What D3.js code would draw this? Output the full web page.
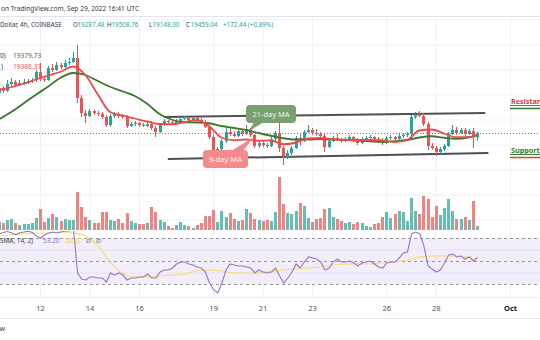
<!DOCTYPE html>
<html><head><meta charset="utf-8">
<script src="https://cdn.jsdelivr.net/npm/d3@7"></script>
<style>
html,body{margin:0;padding:0;background:#fff;}
svg{display:block;font-family:"Noto Sans",Roboto,sans-serif;}
</style></head><body>
<svg id="chart" width="540" height="340"></svg>
<script>
// BTC/USD, 4h candles from Coinbase, Sep 10 08:00 UTC onward
const startTime = Date.UTC(2022, 8, 10, 8);

const open = [21060,21260,21140,21420,21500,21380,21460,21500,21540,21580,
21900,21620,21580,22060,21980,22180,22100,22260,22300,22460,
20860,20260,20140,20340,20260,20220,20100,19780,20140,20220,
20140,20100,19740,19820,19860,19780,19740,19820,19660,19500,
19780,19940,19900,19860,19940,20020,20060,19980,20060,19980,
19900,19700,19300,18740,18820,19140,19500,19420,19340,19540,
19420,19620,19380,18940,19060,18980,18940,19220,19460,18860,
18500,18660,18860,19260,19140,19500,19580,19460,19420,19340,
18900,19140,19260,19180,19140,19220,19300,19180,19060,19220,
19260,19300,19220,19140,19060,19260,19300,19220,19340,19380,
19420,20100,20180,20140,19820,18940,18860,18700,18820,18940,
19420,19580,19460,19580,19420,19540,19287.48];
const high = [21340,21340,21580,21660,21580,21580,21620,21620,21660,21980,
22260,21700,22140,22220,22300,22260,22380,22460,22700,22980,
20980,20380,20420,20380,20340,20300,20180,20220,20300,20300,
20220,20180,19900,19940,19900,19860,19900,19940,19740,19860,
20020,19980,19940,20020,20100,20140,20100,20100,20100,20060,
19980,19740,19380,18900,19220,19660,19700,19540,19660,19620,
19780,19660,19420,19140,19140,19060,19300,19540,19940,18940,
18780,18940,19340,19420,19580,19780,19660,19620,19500,19420,
19220,19340,19420,19260,19300,19380,19340,19260,19300,19340,
19380,19340,19300,19260,19340,19380,19340,19420,19460,19500,
20180,20300,20340,20260,19900,19060,18940,18900,19020,19500,
19780,19700,19660,19660,19620,19660,19508.76];
const low = [21020,21060,21100,21340,21300,21340,21380,21420,21460,21500,
21540,21500,21540,21900,21940,22020,22060,22180,22260,20660,
20100,19860,20100,20180,20140,20020,19700,19700,20060,20060,
20020,19660,19700,19740,19700,19700,19700,19580,19300,19460,
19740,19820,19820,19820,19900,19980,19940,19940,19940,19860,
19660,19220,18700,18420,18660,19060,19340,19300,19300,19340,
19380,19300,18860,18860,18900,18860,18900,19140,18700,18180,
18420,18580,18820,18940,19100,19460,19380,19340,19260,18700,
18860,19100,19140,19060,19100,19180,19100,18980,19020,19140,
19180,19140,19060,18980,19020,19180,19140,19180,19260,19300,
19340,20020,20100,19740,18780,18780,18540,18620,18740,18900,
19380,19380,19420,19340,19380,18860,19148.00];
const close = [21260,21140,21420,21500,21380,21460,21500,21540,21580,21900,
21620,21580,22060,21980,22180,22100,22260,22300,22460,20860,
20260,20140,20340,20260,20220,20100,19780,20140,20220,20140,
20100,19740,19820,19860,19780,19740,19820,19660,19500,19780,
19940,19900,19860,19940,20020,20060,19980,20060,19980,19900,
19700,19300,18740,18820,19140,19500,19420,19340,19540,19420,
19620,19380,18940,19060,18980,18940,19220,19460,18860,18500,
18660,18860,19260,19140,19500,19580,19460,19420,19340,18900,
19140,19260,19180,19140,19220,19300,19180,19060,19220,19260,
19300,19220,19140,19060,19260,19300,19220,19340,19380,19420,
20100,20180,20140,19820,18940,18860,18700,18820,18940,19420,
19580,19460,19580,19420,19540,19287.48,19459.04];
const volume = [800,700,1000,1100,700,500,600,600,700,1200,
2100,800,1200,1600,1300,900,1100,1000,1000,3800,
2300,1300,1000,700,700,1800,1800,1000,900,1100,
700,1700,900,700,600,600,700,2300,1800,1000,
800,400,200,500,800,500,400,200,500,700,
1400,1400,2000,800,1900,1300,1700,1100,900,1000,
2100,1700,1100,1000,900,1000,900,1800,5300,2600,
1700,1600,1900,2700,2400,1200,800,1100,1200,2100,
2200,1300,1100,900,700,800,600,800,700,400,
300,600,700,1300,1800,1200,1600,1900,1800,900,
3200,1900,1600,3400,3100,1300,2400,1500,2200,3100,
1900,1100,1100,1300,1000,2900,400];
const rsi = [73.5,74.8,75.6,74.3,73.0,74.6,75.2,75.9,74.7,71.7,
70.0,72.6,74.3,75.2,74.3,75.2,76.1,76.1,77.8,39.6,
34.3,33.5,36.1,36.1,35.2,35.2,31.7,39.6,37.8,39.6,
37.8,33.5,35.2,35.2,36.1,36.1,38.7,35.2,35.2,40.4,
42.2,42.2,43.9,47.4,49.1,49.1,47.4,46.5,44.8,43.9,
40.4,30.9,24.8,22.2,30.9,42.2,47.4,46.5,45.7,45.7,
44.8,43.9,39.6,42.2,40.4,39.6,40.4,43.9,37.0,30.9,
35.2,40.4,47.4,43.9,49.1,53.5,52.6,51.7,49.1,42.2,
43.9,49.1,51.7,49.1,49.1,50.0,48.3,45.7,48.3,49.1,
50.0,47.4,44.8,43.9,48.3,49.1,49.1,52.6,57.0,57.8,
73.5,75.2,73.5,63.0,45.7,43.0,40.4,42.2,48.3,55.2,
56.1,53.5,54.3,51.7,53.5,50.0,53.2];

// smoothed series, read every third candle
const smoothIdx = [0,3,6,9,12,15,18,21,24,27,30,33,36,39,42,45,48,51,54,57,
60,63,66,69,72,75,78,81,84,87,90,93,96,99,102,105,108,111,114,116];
const ma9 = [21180,21290,21430,21600,21760,21910,22120,21780,21010,20300,
20160,20040,19920,19820,19810,19890,19970,19740,19280,19170,
19200,19150,19160,19010,19070,19240,19260,19210,19180,19180,
19180,19160,19100,19170,19560,19600,19440,19290,19290,19386.37];
const ma21 = [20000,20300,20640,20990,21320,21670,21860,21780,21540,21310,
21130,20940,20630,20220,19990,19890,19880,19850,19740,19660,
19580,19460,19350,19250,19200,19200,19220,19200,19190,19160,
19130,19100,19130,19180,19280,19330,19270,19230,19290,19379.73];
const rsiMa = [71.7,72.6,73.5,74.3,74.3,75.2,74.3,71.7,63.9,49.1,
39.6,36.1,36.1,37.0,37.8,38.7,41.3,42.2,41.3,39.6,
39.6,39.6,41.3,42.2,43.0,43.9,44.8,46.5,47.4,47.4,
47.4,48.3,49.1,50.9,53.5,54.3,54.3,54.3,53.5,50.32];

const tickDates = ["2022-09-12","2022-09-14","2022-09-16","2022-09-19","2022-09-21",
  "2022-09-23","2022-09-26","2022-09-28","2022-10-01"];
const tickLabels = ["12","14","16","19","21","23","26","28","Oct"];

const resistance = [["2022-09-17T00:00:00Z",20100],["2022-09-30T00:00:00Z",20260]];
const support = [["2022-09-17T04:00:00Z",18420],["2022-09-30T03:00:00Z",18660]];

const UP = "#26a69a", DOWN = "#ef5350";
const TXT = "#363a45";
const t = i => new Date(startTime + i * 4 * 3600 * 1000);

const svg = d3.select("#chart");
const x = d3.scaleUtc().domain([new Date(Date.UTC(2022,8,12)), new Date(Date.UTC(2022,9,1))]).range([40,510]);
const y = d3.scaleLinear().domain([16000,24000]).range([219.5,19.5]);
const yVol = d3.scaleLinear().domain([0,5000]).range([230,180]);
const yRsi = d3.scaleLinear().domain([30,70]).range([284,238]);
const ticks = tickDates.map(d => new Date(d + "T00:00:00Z"));

const defs = svg.append("defs");
defs.append("clipPath").attr("id","mainClip").append("rect").attr("x",0).attr("y",17).attr("width",540).attr("height",214);
defs.append("clipPath").attr("id","rsiClip").append("rect").attr("x",0).attr("y",231).attr("width",540).attr("height",66);

// grids
const gridColor = "#f0f1f5";
svg.append("g").attr("transform","translate(0,297)")
  .call(d3.axisBottom(x).tickValues(ticks).tickSize(-281).tickFormat(""))
  .call(g => g.select(".domain").remove())
  .call(g => g.selectAll("line").attr("stroke",gridColor));
svg.append("g").attr("clip-path","url(#mainClip)")
  .call(d3.axisLeft(y).tickValues(d3.range(16000,24001,1000)).tickSize(-540).tickFormat(""))
  .call(g => g.select(".domain").remove())
  .call(g => g.selectAll("line").attr("stroke",gridColor));

// header
svg.append("line").attr("x1",0).attr("x2",540).attr("y1",16.5).attr("y2",16.5).attr("stroke","#e3e5ec");
svg.append("text").attr("x",1).attr("y",9).attr("dy","0.35em").attr("font-size",6.6).attr("fill",TXT)
  .text("on TradingView.com, Sep 29, 2022 16:41 UTC");
const hdr = svg.append("text").attr("y",25).attr("dy","0.35em").attr("font-size",6.3);
const seg = (xp, txt, col) => hdr.append("tspan").attr("x",xp).attr("fill",col).text(txt);
seg(0,"Dollar, 4h, COINBASE",TXT);
seg(73,"O",TXT); seg(77.5,"19287.48",UP);
seg(107,"H",TXT); seg(111.5,"19508.76",UP);
seg(149,"L",TXT); seg(152.5,"19148.00",UP);
seg(186,"C",TXT); seg(190.5,"19459.04",UP);
seg(223,"+172.44 (+0.89%)",UP);

// volume bars
const bw = 3;
const cx = i => Math.round(x(t(i)));
svg.append("g").selectAll("rect").data(volume).join("rect")
  .attr("x",(d,i)=>cx(i)-1).attr("width",bw)
  .attr("y",d=>yVol(d)).attr("height",d=>yVol(0)-yVol(d))
  .attr("fill",(d,i)=> close[i]>=open[i]?UP:DOWN).attr("fill-opacity",0.72);

// last price line
const lastY = y(close[close.length-1]) + 0.5;
svg.append("line").attr("x1",0).attr("x2",540).attr("y1",lastY).attr("y2",lastY)
  .attr("stroke",UP).attr("stroke-dasharray","1,2").attr("stroke-width",1);

// trend lines
const tl = d3.line().x(d=>x(new Date(d[0]))).y(d=>y(d[1]));
[resistance,support].forEach(s=>svg.append("path").attr("d",tl(s)).attr("stroke","#505050").attr("stroke-width",2).attr("fill","none"));

// candles
const cg = svg.append("g").attr("clip-path","url(#mainClip)");
const idx = d3.range(close.length);
cg.selectAll("line.w").data(idx).join("line").attr("class","w")
  .attr("x1",i=>cx(i)+0.5).attr("x2",i=>cx(i)+0.5)
  .attr("y1",i=>y(high[i])).attr("y2",i=>y(low[i]))
  .attr("stroke",i=> close[i]>=open[i]?UP:DOWN).attr("stroke-width",1);
cg.selectAll("rect.b").data(idx).join("rect").attr("class","b")
  .attr("x",i=>cx(i)-1).attr("width",bw)
  .attr("y",i=>y(Math.max(open[i],close[i])))
  .attr("height",i=>Math.max(1, Math.abs(y(open[i])-y(close[i]))))
  .attr("fill",i=> close[i]>=open[i]?UP:DOWN);

// moving averages
const maLine = vals => d3.line().curve(d3.curveMonotoneX)
  .x((d,k)=>x(t(smoothIdx[k]))).y(d=>y(d))(vals);
cg.append("path").attr("d",maLine(ma21)).attr("fill","none").attr("stroke","#3a7a30").attr("stroke-width",1.8);
cg.append("path").attr("d",maLine(ma9)).attr("fill","none").attr("stroke","#f0484b").attr("stroke-width",1.8);

// MA legend
const leg = (xp, yp, txt, col) => svg.append("text").attr("x",xp).attr("y",yp).attr("dy","0.35em").attr("font-size",6.6).attr("fill",col).text(txt);
leg(0,56,"0)",TXT); leg(13,56,"19379.73","#3a7a30");
leg(1,67,")",TXT);  leg(13,67,"19386.37",DOWN);

// callouts
const g21 = svg.append("g");
g21.append("path").attr("d","M254,122 L264,122 L249,131 Z").attr("fill","#79a06f");
g21.append("rect").attr("x",246).attr("y",105).attr("width",50).attr("height",18).attr("rx",4).attr("fill","#79a06f");
g21.append("text").attr("x",271).attr("y",114).attr("dy","0.35em").attr("text-anchor","middle").attr("font-size",7.5).attr("fill","#eef4ea").text("21-day MA");
const g9 = svg.append("g");
g9.append("path").attr("d","M231,151 L243,151 L254,137 Z").attr("fill","#f38a8b");
g9.append("rect").attr("x",203).attr("y",150).attr("width",45).attr("height",18).attr("rx",4).attr("fill","#f38a8b");
g9.append("text").attr("x",225.5).attr("y",159).attr("dy","0.35em").attr("text-anchor","middle").attr("font-size",7.5).attr("fill","#fff4f4").text("9-day MA");

// side labels
svg.append("text").attr("x",511).attr("y",101).attr("dy","0.35em").attr("font-size",7.2).attr("font-weight","bold").attr("fill","#e0393e").text("Resistance");
svg.append("line").attr("x1",510).attr("x2",540).attr("y1",105.5).attr("y2",105.5).attr("stroke","#e0393e").attr("stroke-width",1);
svg.append("line").attr("x1",510).attr("x2",540).attr("y1",108.5).attr("y2",108.5).attr("stroke","#2e7d32").attr("stroke-width",1.5);
svg.append("text").attr("x",511).attr("y",150).attr("dy","0.35em").attr("font-size",7.2).attr("font-weight","bold").attr("fill","#2e7d32").text("Support");
svg.append("line").attr("x1",510).attr("x2",540).attr("y1",154.5).attr("y2",154.5).attr("stroke","#2e7d32").attr("stroke-width",1);
svg.append("line").attr("x1",510).attr("x2",540).attr("y1",157.5).attr("y2",157.5).attr("stroke","#e0393e").attr("stroke-width",1.5);

// RSI pane
svg.append("rect").attr("x",0).attr("width",540).attr("y",yRsi(70)).attr("height",yRsi(30)-yRsi(70)).attr("fill","#f1edf9");
svg.append("g").call(d3.axisLeft(yRsi).tickValues([40,60]).tickSize(-540).tickFormat(""))
  .call(g => g.select(".domain").remove())
  .call(g => g.selectAll("line").attr("stroke","#e6e2f0"));
[70,50,30].forEach(v=>svg.append("line").attr("x1",0).attr("x2",540).attr("y1",yRsi(v)+0.5).attr("y2",yRsi(v)+0.5)
  .attr("stroke","#9598a1").attr("stroke-dasharray","3,3").attr("stroke-width",1));
const rg = svg.append("g").attr("clip-path","url(#rsiClip)");
rg.append("path").attr("d", d3.line().curve(d3.curveMonotoneX).x((d,k)=>x(t(smoothIdx[k]))).y(d=>yRsi(d))(rsiMa))
  .attr("fill","none").attr("stroke","#f9dc6a").attr("stroke-width",1.1);
rg.append("path").attr("d", d3.line().x((d,i)=>x(t(i))+0.5).y(d=>yRsi(d))(rsi))
  .attr("fill","none").attr("stroke","#9575cd").attr("stroke-width",1.1);

const rl = svg.append("text").attr("y",241).attr("dy","0.35em").attr("font-size",6.4);
rl.append("tspan").attr("x",0).attr("fill",TXT).text("SMA, 14, 2)");
rl.append("tspan").attr("x",43).attr("fill","#9575cd").text("53.20");
rl.append("tspan").attr("x",65).attr("fill","#f5d552").text("50.32");
rl.append("tspan").attr("x",86).attr("fill",TXT).text("∅");
rl.append("tspan").attr("x",96).attr("fill",TXT).text("∅");

// time axis
svg.append("line").attr("x1",0).attr("x2",540).attr("y1",297.5).attr("y2",297.5).attr("stroke","#eceef3");
svg.append("line").attr("x1",0).attr("x2",540).attr("y1",318.5).attr("y2",318.5).attr("stroke","#e3e5ec");
svg.append("g").attr("transform","translate(0,297)")
  .call(d3.axisBottom(x).tickValues(ticks).tickSize(0).tickPadding(9).tickFormat((d,i)=>tickLabels[i]))
  .call(g => g.select(".domain").remove())
  .call(g => g.selectAll("text").attr("font-size",7.5).attr("font-family","Noto Sans, sans-serif")
      .attr("fill",(d,i)=> i===tickLabels.length-1 ? "#131722" : "#50535e")
      .attr("font-weight",(d,i)=> i===tickLabels.length-1 ? "bold" : "normal"));

svg.append("text").attr("x",5).attr("y",329).attr("dy","0.35em").attr("text-anchor","end").attr("font-size",7).attr("fill",TXT).text("TradingView");
</script>
</body></html>
